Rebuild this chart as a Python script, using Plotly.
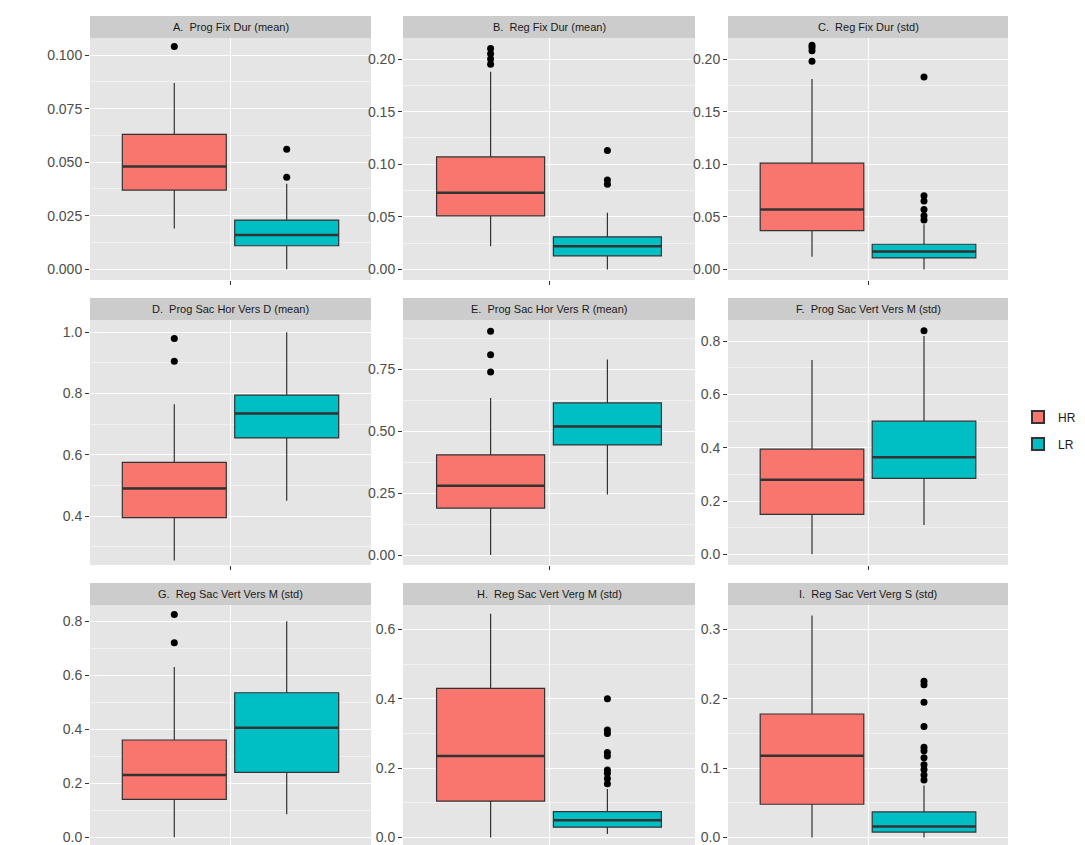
import plotly.graph_objects as go

titles = ["A.  Prog Fix Dur (mean)", "B.  Reg Fix Dur (mean)", "C.  Reg Fix Dur (std)",
          "D.  Prog Sac Hor Vers D (mean)", "E.  Prog Sac Hor Vers R (mean)", "F.  Prog Sac Vert Vers M (std)",
          "G.  Reg Sac Vert Vers M (std)", "H.  Reg Sac Vert Verg M (std)", "I.  Reg Sac Vert Verg S (std)"]
groups = ["HR", "LR"]
# per panel: [lowerfence, q1, median, q3, upperfence] for HR and LR
hr_stats = [[0.019, 0.037, 0.048, 0.063, 0.087], [0.022, 0.051, 0.073, 0.107, 0.188], [0.012, 0.037, 0.057, 0.101, 0.181],
            [0.255, 0.395, 0.49, 0.575, 0.765], [0.0, 0.19, 0.28, 0.405, 0.635], [0.0, 0.15, 0.28, 0.395, 0.73],
            [0.0, 0.14, 0.23, 0.36, 0.63], [0.0, 0.105, 0.235, 0.43, 0.645], [0.0, 0.048, 0.118, 0.178, 0.32]]
lr_stats = [[0.0, 0.011, 0.016, 0.023, 0.040], [0.0, 0.013, 0.022, 0.031, 0.054], [0.0, 0.011, 0.017, 0.024, 0.043],
            [0.45, 0.655, 0.735, 0.795, 1.0], [0.245, 0.445, 0.52, 0.615, 0.79], [0.11, 0.285, 0.365, 0.50, 0.82],
            [0.085, 0.24, 0.405, 0.535, 0.80], [0.01, 0.03, 0.05, 0.075, 0.14], [0.0, 0.008, 0.016, 0.037, 0.075]]
hr_out = [[0.104], [0.195, 0.200, 0.205, 0.210], [0.198, 0.208, 0.211, 0.213], [0.905, 0.98], [0.74, 0.81, 0.905], [],
          [0.72, 0.825], [], []]
lr_out = [[0.043, 0.056], [0.081, 0.085, 0.113], [0.047, 0.051, 0.057, 0.065, 0.070, 0.183], [], [], [0.84], [],
          [0.155, 0.17, 0.185, 0.195, 0.235, 0.245, 0.30, 0.31, 0.40],
          [0.083, 0.09, 0.098, 0.105, 0.115, 0.125, 0.13, 0.16, 0.195, 0.22, 0.225]]
y_ranges = [[-0.005, 0.108], [-0.01, 0.22], [-0.01, 0.22], [0.24, 1.04], [-0.04, 0.95], [-0.04, 0.88],
            [-0.04, 0.86], [-0.03, 0.67], [-0.015, 0.335]]
y_ticks = [[0, 0.025, 0.05, 0.075, 0.1], [0, 0.05, 0.1, 0.15, 0.2], [0, 0.05, 0.1, 0.15, 0.2],
           [0.4, 0.6, 0.8, 1.0], [0, 0.25, 0.5, 0.75], [0, 0.2, 0.4, 0.6, 0.8],
           [0, 0.2, 0.4, 0.6, 0.8], [0, 0.2, 0.4, 0.6], [0, 0.1, 0.2, 0.3]]
y_ticklabels = [["0.000", "0.025", "0.050", "0.075", "0.100"], ["0.00", "0.05", "0.10", "0.15", "0.20"],
                ["0.00", "0.05", "0.10", "0.15", "0.20"], ["0.4", "0.6", "0.8", "1.0"],
                ["0.00", "0.25", "0.50", "0.75"], ["0.0", "0.2", "0.4", "0.6", "0.8"],
                ["0.0", "0.2", "0.4", "0.6", "0.8"], ["0.0", "0.2", "0.4", "0.6"], ["0.0", "0.1", "0.2", "0.3"]]
colors = ["#F8766D", "#00BFC4"]
xpos = [-0.2, 0.2]

W, H = 1085, 845
xcols = [(82, 363), (395, 687), (720, 1000)]
rows = [(30, 272, 8), (312, 557, 290), (597, 840, 575)]

fig = go.Figure()
shapes, annotations = [], []
for i in range(9):
    r, c = divmod(i, 3)
    x0, x1 = xcols[c]
    yt, yb, hy = rows[r]
    n = "" if i == 0 else str(i + 1)
    xa, ya = "x" + n, "y" + n
    tk = y_ticks[i]
    step = tk[1] - tk[0]
    fig.layout["xaxis" + n] = dict(domain=[x0 / W, x1 / W], range=[-0.5, 0.5], tickvals=[0], ticktext=[""],
                                  showgrid=True, gridcolor="white", gridwidth=1.2, zeroline=False,
                                  ticks="outside", ticklen=4, tickcolor="#333", anchor=ya, fixedrange=True)
    fig.layout["yaxis" + n] = dict(domain=[1 - yb / H, 1 - yt / H], range=y_ranges[i], tickvals=tk,
                                  ticktext=y_ticklabels[i], showgrid=True, gridcolor="white", gridwidth=1.2,
                                  zeroline=False, ticks="outside", ticklen=4, tickcolor="#333",
                                  tickfont=dict(size=14, color="#4d4d4d"), anchor=xa,
                                  minor=dict(showgrid=True, gridcolor="#F2F2F2", gridwidth=0.6,
                                             tick0=tk[0] - step / 2, dtick=step))
    shapes.append(dict(type="rect", xref="paper", yref="paper", x0=x0 / W, x1=x1 / W, y0=1 - yb / H, y1=1 - yt / H,
                       fillcolor="#E5E5E5", line_width=0, layer="below"))
    shapes.append(dict(type="rect", xref="paper", yref="paper", x0=x0 / W, x1=x1 / W, y0=1 - yt / H, y1=1 - hy / H,
                       fillcolor="#CCCCCC", line_width=0))
    annotations.append(dict(text=titles[i], xref="paper", yref="paper", x=(x0 + x1) / 2 / W,
                            y=1 - (yt + hy) / 2 / H, xanchor="center", yanchor="middle", showarrow=False,
                            font=dict(size=11, color="#1a1a1a")))
    for g, st, outs in ((0, hr_stats[i], hr_out[i]), (1, lr_stats[i], lr_out[i])):
        fig.add_trace(go.Box(x=[xpos[g]], lowerfence=[st[0]], q1=[st[1]], median=[st[2]], q3=[st[3]],
                             upperfence=[st[4]], width=0.37, whiskerwidth=0, fillcolor=colors[g],
                             line=dict(color="#333333", width=1.2), name=groups[g], boxpoints=False,
                             xaxis=xa, yaxis=ya, showlegend=(i == 0), legendgroup=groups[g]))
        fig.add_trace(go.Scatter(x=[xpos[g] - 0.185, xpos[g] + 0.185], y=[st[2], st[2]], mode="lines",
                                 line=dict(color="#333333", width=2.5), xaxis=xa, yaxis=ya, showlegend=False,
                                 hoverinfo="skip"))
        if outs:
            fig.add_trace(go.Scatter(x=[xpos[g]] * len(outs), y=outs, mode="markers",
                                     marker=dict(color="black", size=7), xaxis=xa, yaxis=ya, showlegend=False))

fig.update_layout(width=W, height=H, margin=dict(l=0, r=0, t=0, b=0), plot_bgcolor="rgba(0,0,0,0)",
                  paper_bgcolor="white", shapes=shapes, annotations=annotations,
                  font=dict(family="Liberation Sans, Arial", color="#4d4d4d"),
                  legend=dict(x=1010 / W, y=0.5, yanchor="middle", font=dict(size=12, color="#1a1a1a"),
                              itemsizing="constant", tracegroupgap=8))
fig.write_html("out.html")
